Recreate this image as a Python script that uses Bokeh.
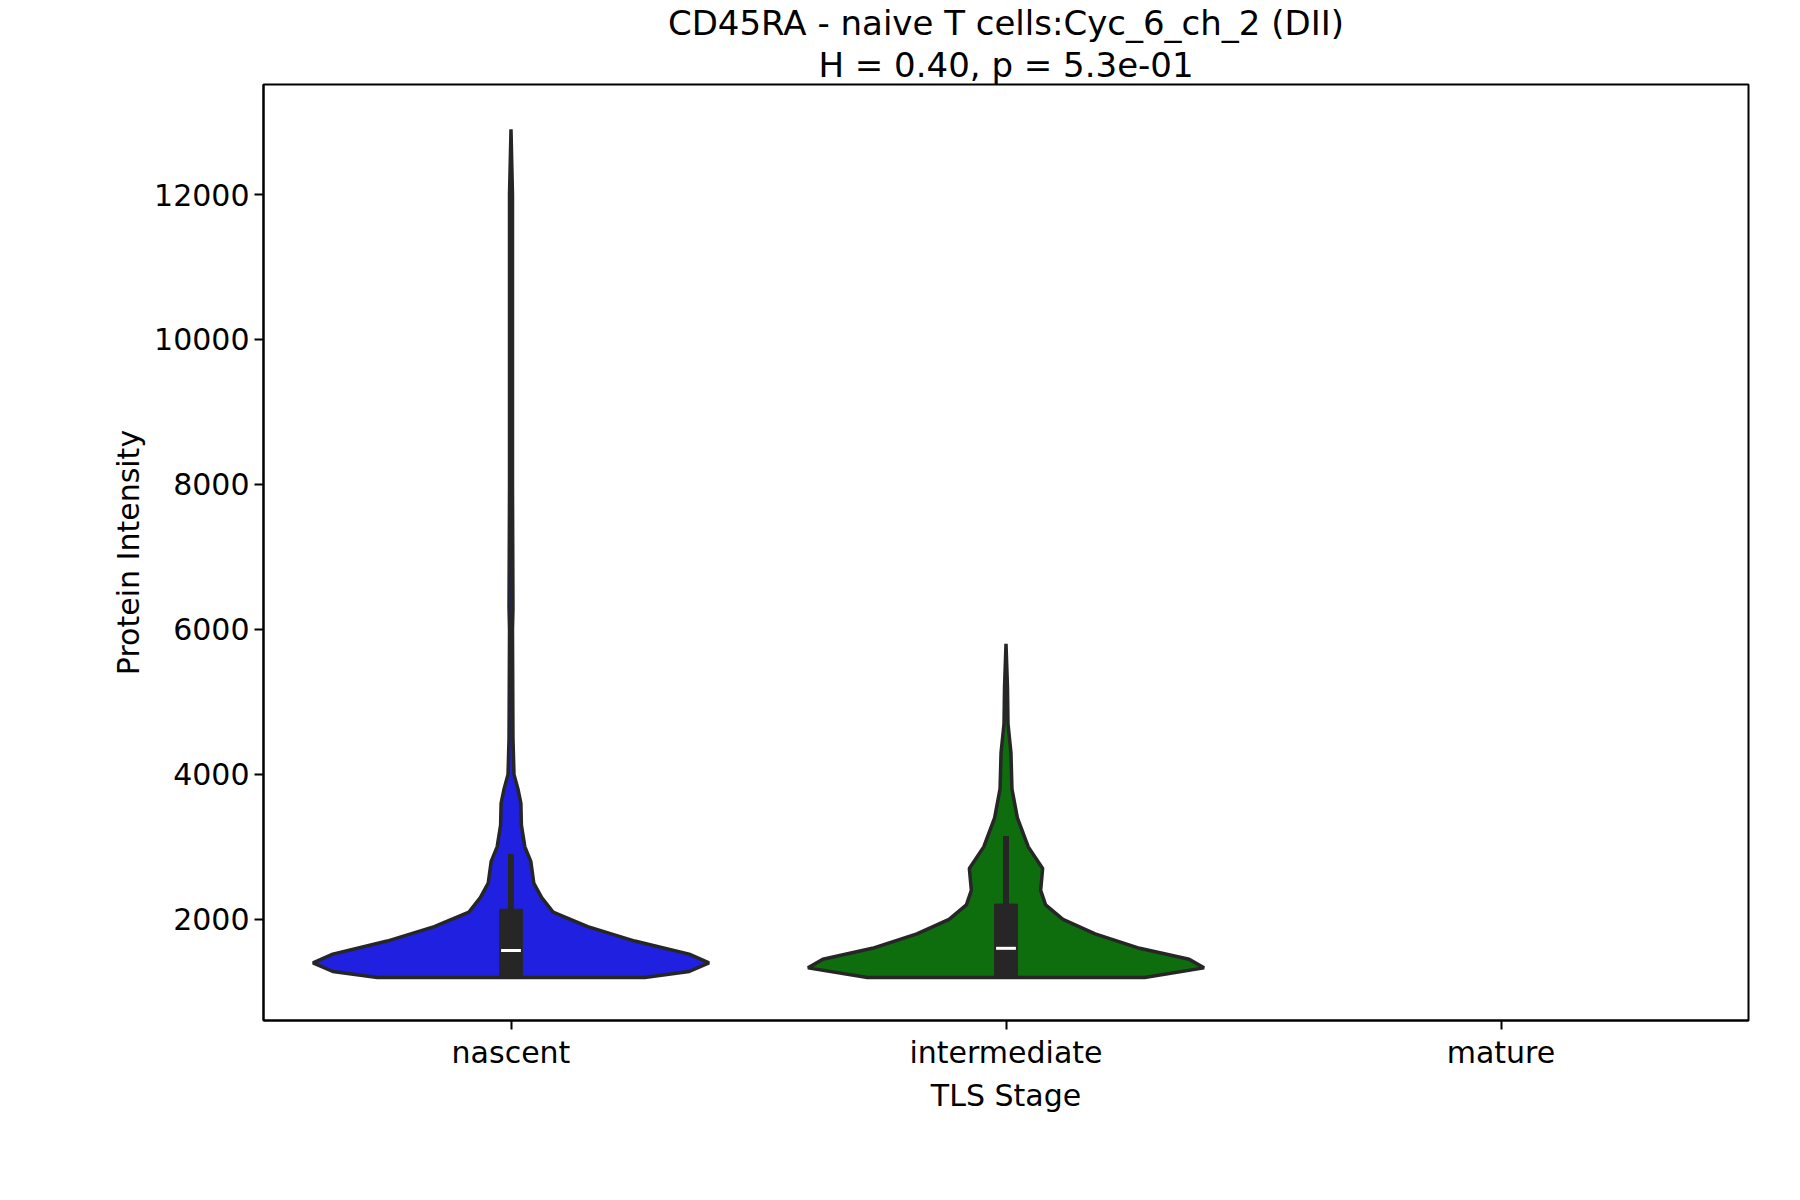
from bokeh.plotting import figure
from bokeh.models import FixedTicker, Range1d, Title
from bokeh.embed import file_html
from bokeh.resources import INLINE

stages = ["nascent", "intermediate", "mature"]
colors = ["#2020e0", "#0e6e0e"]

# violin outlines: (value, half width in category units)
nascent_y = [1197, 1280, 1400, 1520, 1700, 1900, 2100, 2300, 2500, 2800, 3000, 3300, 3600, 3800, 4000, 4500, 6000, 6300, 8000, 12000, 12900]
nascent_w = [0.27, 0.36, 0.40, 0.36, 0.25, 0.155, 0.085, 0.062, 0.046, 0.040, 0.028, 0.021, 0.020, 0.014, 0.006, 0.004, 0.003, 0.004, 0.003, 0.003, 0.0]
inter_y = [1197, 1330, 1450, 1600, 1800, 2000, 2200, 2400, 2700, 3000, 3400, 3800, 4300, 4700, 5200, 5800]
inter_w = [0.28, 0.40, 0.37, 0.27, 0.18, 0.115, 0.08, 0.07, 0.074, 0.045, 0.023, 0.012, 0.010, 0.004, 0.003, 0.0]

# box stats: q1, median, q3, upper whisker
q1 = [1197, 1197]
med = [1570, 1600]
q3 = [2140, 2210]
whisk_lo = [1197, 1197]
whisk_hi = [2900, 3150]

s = 1.144  # reference pixel scale
p = figure(width=int(1560 * s), height=int(1040 * s), output_backend="svg", toolbar_location=None,
           x_range=Range1d(-0.5, 2.5), y_range=Range1d(604, 13518),
           min_border_left=int(230 * s), min_border_right=int(32 * s),
           min_border_top=int(50 * s), min_border_bottom=int(148 * s))

for i, (ys, ws) in enumerate([(nascent_y, nascent_w), (inter_y, inter_w)]):
    xs = [i + w for w in ws] + [i - w for w in reversed(ws)]
    yy = ys + list(reversed(ys))
    p.patch(xs, yy, fill_color=colors[i], line_color="#262626", line_width=3.5)

xc = [0, 1]
p.segment(xc, whisk_lo, xc, whisk_hi, line_color="#262626", line_width=6)
p.vbar(x=xc, bottom=q1, top=q3, width=0.046, fill_color="#262626", line_color="#262626")
p.segment([x - 0.02 for x in xc], med, [x + 0.02 for x in xc], med, line_color="white", line_width=3)

for line in ["H = 0.40, p = 5.3e-01", "CD45RA - naive T cells:Cyc_6_ch_2 (DII)"]:
    p.add_layout(Title(text=line, align="center", text_font="DejaVu Sans", text_font_size="34px",
                       text_font_style="normal", text_color="black", standoff=0), "above")

p.xaxis.ticker = FixedTicker(ticks=[0, 1, 2])
p.xaxis.major_label_overrides = {0: stages[0], 1: stages[1], 2: stages[2]}
p.yaxis.ticker = FixedTicker(ticks=[2000, 4000, 6000, 8000, 10000, 12000])
p.xaxis.axis_label = "TLS Stage"
p.yaxis.axis_label = "Protein Intensity"
for ax in [p.xaxis, p.yaxis]:
    ax.axis_label_text_font = "DejaVu Sans"
    ax.axis_label_text_font_size = "30px"
    ax.axis_label_text_font_style = "normal"
    ax.axis_label_text_color = "black"
    ax.major_label_text_font = "DejaVu Sans"
    ax.major_label_text_font_size = "30px"
    ax.major_label_text_color = "black"
    ax.minor_tick_line_color = None
    ax.major_tick_out = 9
    ax.major_tick_in = 0
    ax.major_tick_line_width = 2
    ax.axis_line_width = 2
    ax.axis_line_color = "black"
p.yaxis.major_label_orientation = "horizontal"
p.grid.visible = False
p.outline_line_color = "black"
p.outline_line_width = 2

open("out.html", "w").write(file_html(p, INLINE))
